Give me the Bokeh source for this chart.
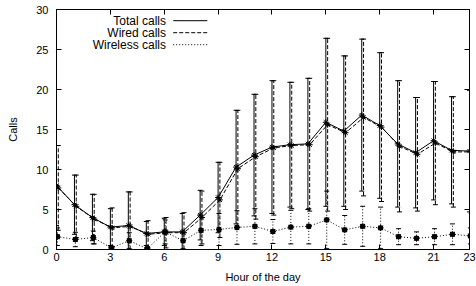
from bokeh.plotting import figure
from bokeh.models import Range1d, FixedTicker, LinearAxis, Whisker, ColumnDataSource, TeeHead, Label
from bokeh.embed import file_html
from bokeh.resources import INLINE

hours = list(range(24))
total_mean = [8.0, 5.6, 4.0, 2.8, 3.0, 2.0, 2.2, 2.2, 4.3, 6.5, 10.3, 11.8, 12.8, 13.1,
              13.2, 15.9, 14.8, 16.8, 15.5, 13.2, 12.1, 13.6, 12.4, 12.3]
total_err = [5.0, 3.7, 2.9, 2.3, 4.2, 1.5, 1.7, 2.3, 3.1, 4.4, 7.1, 7.6, 8.3, 7.8,
             8.2, 10.5, 9.4, 9.5, 9.1, 7.9, 6.9, 7.4, 6.7, 7.6]
wired_mean = [7.7, 5.4, 3.8, 2.7, 2.9, 1.9, 2.1, 2.1, 4.0, 6.2, 10.1, 11.6, 12.7, 13.0,
              13.1, 15.6, 14.6, 16.5, 15.3, 12.9, 11.9, 13.3, 12.2, 12.2]
wired_err = [5.3, 3.9, 3.1, 2.5, 4.3, 1.7, 1.9, 2.5, 3.3, 4.7, 7.3, 7.8, 8.4, 7.9,
             8.3, 10.8, 9.6, 9.8, 9.3, 8.2, 7.1, 7.7, 6.9, 7.7]
wireless_mean = [1.6, 1.25, 1.5, 0.2, 1.1, 0.1, 2.2, 1.1, 2.4, 2.5, 2.75, 2.9, 2.25, 2.8,
                 2.9, 3.7, 2.45, 2.9, 2.7, 1.6, 1.4, 1.6, 1.9, 1.7]
wireless_err = [1.1, 0.9, 0.8, 0.2, 1.0, 0.1, 1.5, 1.0, 1.9, 2.0, 2.1, 2.2, 1.5, 2.1,
                2.2, 3.6, 1.8, 2.5, 2.6, 1.0, 0.8, 1.0, 1.3, 1.0]

x_ticks = [0, 3, 6, 9, 12, 15, 18, 21, 23]
y_ticks = [0, 5, 10, 15, 20, 25, 30]
series_names = ["Total calls", "Wired calls", "Wireless calls"]

FONT = "Liberation Sans"

p = figure(width=476, height=286, x_range=Range1d(0, 23), y_range=Range1d(0, 30),
           output_backend="svg", toolbar_location=None,
           min_border_left=56, min_border_right=7, min_border_top=9, min_border_bottom=37)
p.grid.visible = False
p.outline_line_color = "black"
p.outline_line_width = 1
p.background_fill_color = "white"
p.border_fill_color = "white"

for ax in p.xaxis:
    ax.ticker = FixedTicker(ticks=x_ticks)
    ax.axis_label = "Hour of the day"
for ax in p.yaxis:
    ax.ticker = FixedTicker(ticks=y_ticks)
    ax.axis_label = "Calls"

for ax in p.xaxis + p.yaxis:
    ax.major_tick_in = 5
    ax.major_tick_out = 0
    ax.minor_tick_line_color = None
    ax.axis_line_color = "black"
    ax.major_label_text_font = FONT
    ax.major_label_text_font_size = "11px"
    ax.major_label_text_color = "black"
    ax.axis_label_text_font = FONT
    ax.axis_label_text_font_size = "11px"
    ax.axis_label_text_font_style = "normal"
    ax.axis_label_text_color = "black"
p.xaxis.major_label_standoff = 3
p.xaxis.axis_label_standoff = 7
p.yaxis.major_label_standoff = 8
p.yaxis.axis_label_standoff = 14

for loc, ticks in (("above", x_ticks), ("right", y_ticks)):
    a = LinearAxis(ticker=FixedTicker(ticks=ticks), major_tick_in=5, major_tick_out=0,
                   minor_tick_line_color=None, major_label_standoff=0,
                   major_label_overrides={t: "" for t in ticks},
                   axis_line_color="black")
    p.add_layout(a, loc)

offsets = [0.0, 0.1, 0.05]
dashes = ["solid", "4 2", "1 2"]
means = [total_mean, wired_mean, wireless_mean]
errs = [total_err, wired_err, wireless_err]

for name, off, dash, m, e in zip(series_names, offsets, dashes, means, errs):
    xs = [h + off for h in hours]
    src = ColumnDataSource(dict(x=xs, y=m,
                                upper=[a + b for a, b in zip(m, e)],
                                lower=[max(a - b, 0) for a, b in zip(m, e)]))
    w = Whisker(base="x", upper="upper", lower="lower", source=src, dimension="height",
                line_color="black", line_width=1, line_dash=dash,
                upper_head=TeeHead(size=5, line_color="black", line_width=1),
                lower_head=TeeHead(size=5, line_color="black", line_width=1))
    p.add_layout(w)
    p.line("x", "y", source=src, line_color="black", line_width=1, line_dash=dash)
    if name == "Wireless calls":
        p.scatter("x", "y", source=src, marker="square", size=4, fill_color="black",
                  line_color="black")
    p.scatter("x", "y", source=src, marker="asterisk", size=6, line_color="black")

# gnuplot-style legend: text right-aligned, sample line to its right
leg_y = [28.6, 27.1, 25.6]
for name, dash, yy in zip(series_names, dashes, leg_y):
    p.add_layout(Label(x=6.1, y=yy, text=name, text_align="right", text_baseline="middle",
                       text_font=FONT, text_font_size="12px", text_color="black"))
    p.segment(x0=[6.5], y0=[yy], x1=[8.4], y1=[yy], line_color="black", line_width=1,
              line_dash=dash)

open("out.html", "w").write(file_html(p, INLINE))
